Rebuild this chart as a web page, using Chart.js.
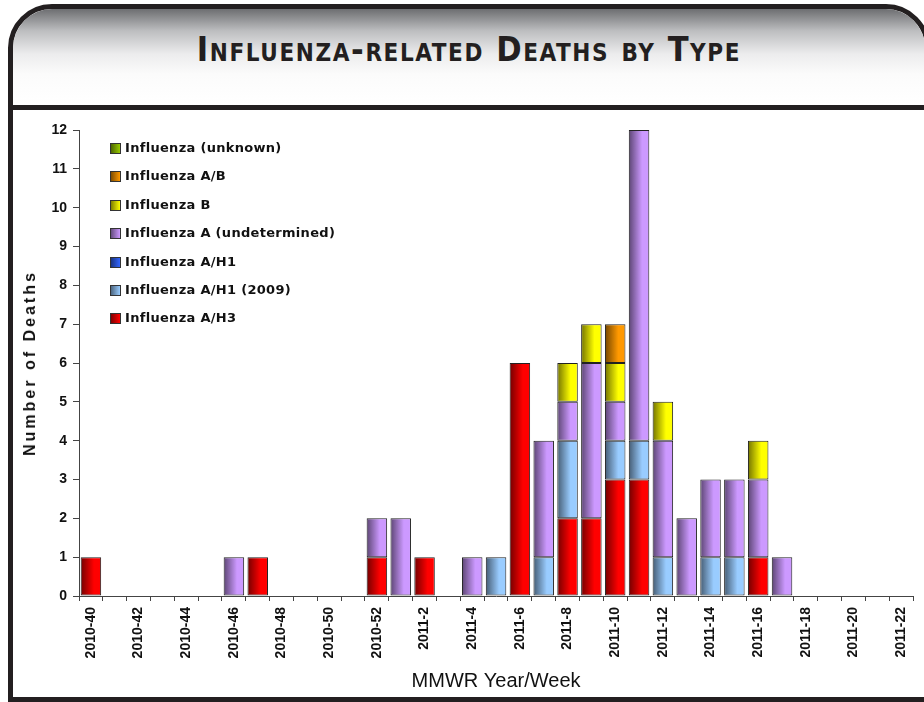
<!doctype html>
<html lang="en">
<head>
<meta charset="utf-8">
<title>Influenza-related Deaths by Type</title>
<script src="https://cdn.jsdelivr.net/npm/chart.js"></script>
<style>
	html, body { margin: 0; padding: 0; background: #fff; }
	body { width: 924px; height: 702px; overflow: hidden; position: relative; }
	.frame {
		position: absolute; left: 8px; top: 4px; width: 912px; height: 688px;
		border: 5px solid #231f20; border-radius: 44px 44px 0 0; overflow: hidden;
	}
	.band {
		position: absolute; left: 0; top: 0; right: 0; height: 96px;
		border-bottom: 5px solid #231f20;
		background: linear-gradient(to bottom, #6d6e71 0px, #bdbec0 22px, #ececed 45px, #fbfbfb 65px, #ffffff 96px);
	}
	.title {
		position: absolute; left: 0; right: 0; top: 20px; text-align: center;
		font-family: "Liberation Sans Narrow", "DejaVu Sans Condensed", sans-serif;
		font-weight: bold; font-size: 34px; font-variant: small-caps; color: #231f20;
		letter-spacing: 1.6px;
	}
	#wrap { position: absolute; left: 13px; top: 110px; width: 911px; height: 587px; }
	.ytitle {
		position: absolute; left: 30px; top: 363px; transform: translate(-50%, -50%) rotate(-90deg);
		font-family: "Liberation Sans", Arial, sans-serif; font-weight: bold; font-size: 16px;
		letter-spacing: 3px; white-space: nowrap; color: #111;
	}
	#legend { position: absolute; left: 110px; top: 139px; font-family: "DejaVu Sans", Verdana, sans-serif; }
	#legend div { height: 28.4px; display: flex; align-items: flex-start; font-weight: bold; font-size: 13px; letter-spacing: 0.3px; color: #111; line-height: 18px; }
	#legend span.box { width: 9px; height: 9px; border: 1px solid #333; margin: 4px 4px 0 0; flex: none; }
</style>
</head>
<body>
	<div class="frame">
		<div class="band"><div class="title">Influenza-related Deaths by Type</div></div>
	</div>
	<div id="wrap"><canvas id="myChart"></canvas></div>
	<div class="ytitle">Number of Deaths</div>
	<div id="legend"></div>

	<script>
		// weeks on the x axis
		const weeks = [
			'2010-40', '2010-41', '2010-42', '2010-43', '2010-44', '2010-45', '2010-46', '2010-47',
			'2010-48', '2010-49', '2010-50', '2010-51', '2010-52', '2011-1', '2011-2', '2011-3',
			'2011-4', '2011-5', '2011-6', '2011-7', '2011-8', '2011-9', '2011-10', '2011-11',
			'2011-12', '2011-13', '2011-14', '2011-15', '2011-16', '2011-17', '2011-18', '2011-19',
			'2011-20', '2011-21', '2011-22'
		];

		// deaths per week, one array per type (bottom of the stack first)
		const h3 =       [1,0,0,0,0,0,0,1, 0,0,0,0,1,0,1,0, 0,0,6,0,2,2,3,3, 0,0,0,0,1,0,0,0, 0,0,0];
		const h1_2009 =  [0,0,0,0,0,0,0,0, 0,0,0,0,0,0,0,0, 0,1,0,1,2,0,1,1, 1,0,1,1,0,0,0,0, 0,0,0];
		const h1 =       [0,0,0,0,0,0,0,0, 0,0,0,0,0,0,0,0, 0,0,0,0,0,0,0,0, 0,0,0,0,0,0,0,0, 0,0,0];
		const undet =    [0,0,0,0,0,0,1,0, 0,0,0,0,1,2,0,0, 1,0,0,3,1,4,1,8, 3,2,2,2,2,1,0,0, 0,0,0];
		const fluB =     [0,0,0,0,0,0,0,0, 0,0,0,0,0,0,0,0, 0,0,0,0,1,1,1,0, 1,0,0,0,1,0,0,0, 0,0,0];
		const fluAB =    [0,0,0,0,0,0,0,0, 0,0,0,0,0,0,0,0, 0,0,0,0,0,0,1,0, 0,0,0,0,0,0,0,0, 0,0,0];
		const unknown =  [0,0,0,0,0,0,0,0, 0,0,0,0,0,0,0,0, 0,0,0,0,0,0,0,0, 0,0,0,0,0,0,0,0, 0,0,0];

		const yTicks = [0,1,2,3,4,5,6,7,8,9,10,11,12];

		const series = [
			{ label: 'Influenza A/H3', data: h3, color: '#ff0000' },
			{ label: 'Influenza A/H1 (2009)', data: h1_2009, color: '#99ccff' },
			{ label: 'Influenza A/H1', data: h1, color: '#3366ff' },
			{ label: 'Influenza A (undetermined)', data: undet, color: '#cc99ff' },
			{ label: 'Influenza B', data: fluB, color: '#ffff00' },
			{ label: 'Influenza A/B', data: fluAB, color: '#ff9900' },
			{ label: 'Influenza (unknown)', data: unknown, color: '#99cc00' }
		];

		function darker(hex, f) {
			var r = parseInt(hex.substr(1, 2), 16), g = parseInt(hex.substr(3, 2), 16), b = parseInt(hex.substr(5, 2), 16);
			return 'rgb(' + Math.round(r * f) + ',' + Math.round(g * f) + ',' + Math.round(b * f) + ')';
		}

		// give each bar its horizontal shading (dark left edge) from its own x and width.
		// options objects can be shared between bars, so every bar gets its own copy
		const shadePlugin = {
			id: 'shade',
			beforeDatasetsDraw(chart) {
				const c = chart.ctx;
				chart.data.datasets.forEach((ds, di) => {
					const base = series[di].color;
					chart.getDatasetMeta(di).data.forEach(bar => {
						if (!bar.width || !isFinite(bar.x)) return;
						const g = c.createLinearGradient(bar.x - bar.width / 2, 0, bar.x + bar.width / 2, 0);
						g.addColorStop(0, darker(base, 0.45));
						g.addColorStop(0.65, base);
						g.addColorStop(1, base);
						bar.options = Object.assign({}, bar.options, { backgroundColor: g });
					});
				});
			}
		};

		const datasets = series.map(s => ({
			label: s.label,
			data: s.data.map(v => v === 0 ? null : v),
			backgroundColor: s.color,
			borderColor: '#222',
			borderWidth: 1,
			borderSkipped: false,
			categoryPercentage: 0.86,
			barPercentage: 1
		}));

		// legend, top entry is the top of the stack
		const legend = document.getElementById('legend');
		series.slice().reverse().forEach(s => {
			const row = document.createElement('div');
			const box = document.createElement('span');
			box.className = 'box';
			box.style.background = 'linear-gradient(to right, ' + darker(s.color, 0.5) + ', ' + s.color + ')';
			row.appendChild(box);
			row.appendChild(document.createTextNode(s.label));
			legend.appendChild(row);
		});

		new Chart(document.getElementById('myChart'), {
			type: 'bar',
			data: { labels: weeks, datasets: datasets },
			plugins: [shadePlugin],
			options: {
				responsive: true,
				maintainAspectRatio: false,
				animation: false,
				layout: { padding: { top: 20, right: 1, left: 0, bottom: 0 } },
				plugins: { legend: { display: false }, tooltip: { enabled: false } },
				scales: {
					x: {
						stacked: true,
						grid: { drawOnChartArea: false, drawTicks: true, tickLength: 5, color: '#444', offset: true },
						border: { display: true, color: '#444', width: 1 },
						ticks: {
							autoSkip: false, maxRotation: 90, minRotation: 90, padding: 6,
							color: '#111',
							font: { family: '"Liberation Sans", Arial, sans-serif', size: 14, weight: 'bold' },
							callback: function (v, i) { return i % 2 === 0 ? weeks[i] : ''; }
						},
						title: {
							display: true, text: 'MMWR Year/Week', color: '#111',
							font: { family: '"Liberation Sans", Arial, sans-serif', size: 20 },
							padding: { top: 4, bottom: 4 }
						},
						afterFit: function (scale) { scale.height = 101; }
					},
					y: {
						stacked: true,
						min: 0, max: 12,
						afterBuildTicks: function (scale) { scale.ticks = yTicks.map(v => ({ value: v })); },
						grid: { drawOnChartArea: false, drawTicks: true, tickLength: 6, color: '#444' },
						border: { display: true, color: '#444', width: 1 },
						ticks: {
							padding: 6, color: '#111',
							font: { family: '"Liberation Sans", Arial, sans-serif', size: 14, weight: 'bold' }
						},
						afterFit: function (scale) { scale.width = 66; }
					}
				}
			}
		});
	</script>
</body>
</html>
